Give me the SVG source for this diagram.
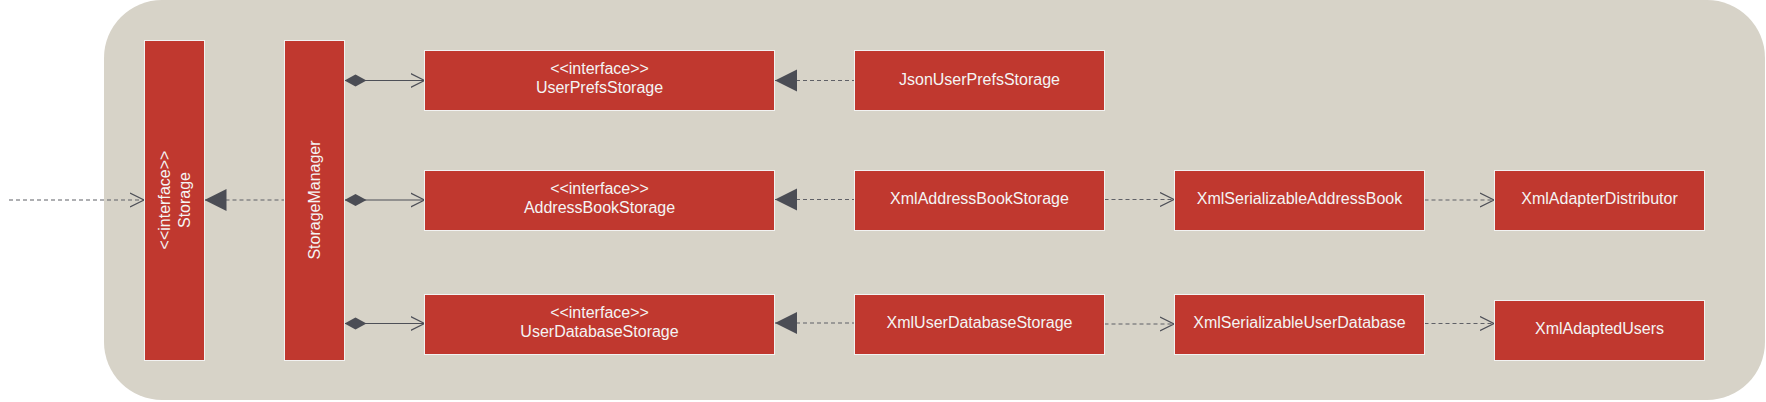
<svg xmlns="http://www.w3.org/2000/svg" width="1766" height="402" viewBox="0 0 1766 402">
<style>
.box{fill:#c0382f;stroke:#f2f2f2;stroke-width:1}
.t{font-family:"Liberation Sans",Arial,sans-serif;font-size:16px;fill:#f4f4f4;text-anchor:middle}
.solid{stroke:#4d4f57;stroke-width:1.2;fill:none}
.dash{stroke:#5f6066;stroke-width:1.2;fill:none;stroke-dasharray:4 3}
</style>
<defs>
<marker id="open" markerUnits="userSpaceOnUse" markerWidth="16" markerHeight="16" refX="14" refY="8" orient="auto" viewBox="0 0 16 16">
<path d="M0,1 L14,8 L0,15" fill="none" stroke="#4d4f57" stroke-width="1.2"/>
</marker>
<marker id="tri" markerUnits="userSpaceOnUse" markerWidth="24" markerHeight="24" refX="0" refY="12" orient="auto" viewBox="0 0 24 24">
<path d="M0,12 L22,1 L22,23 Z" fill="#4b4d55"/>
</marker>
<marker id="dia" markerUnits="userSpaceOnUse" markerWidth="24" markerHeight="14" refX="0" refY="7" orient="auto" viewBox="0 0 24 14">
<path d="M0,7 L11,1 L22,7 L11,13 Z" fill="#4b4d55"/>
</marker>
</defs>
<rect x="104" y="0" width="1661" height="400" rx="58" ry="58" fill="#d7d3c8"/>
<g id="connectors">
<path class="dash" d="M9,200 L144,200" marker-end="url(#open)"/>
<path class="dash" d="M204.5,200 L284,200" marker-start="url(#tri)"/>
<path class="solid" d="M344.5,80.5 L424.5,80.5" marker-start="url(#dia)" marker-end="url(#open)"/>
<path class="solid" d="M344.5,200 L424.5,200" marker-start="url(#dia)" marker-end="url(#open)"/>
<path class="solid" d="M344.5,323.5 L424.5,323.5" marker-start="url(#dia)" marker-end="url(#open)"/>
<path class="dash" d="M775,80.5 L854.5,80.5" marker-start="url(#tri)"/>
<path class="dash" d="M775,199.5 L854.5,199.5" marker-start="url(#tri)"/>
<path class="dash" d="M775,323 L854.5,323" marker-start="url(#tri)"/>
<path class="dash" d="M1104.5,199.5 L1174,199.5" marker-end="url(#open)"/>
<path class="dash" d="M1104.5,324 L1174,324" marker-end="url(#open)"/>
<path class="dash" d="M1424.5,200 L1494,200" marker-end="url(#open)"/>
<path class="dash" d="M1424.5,323.5 L1494,323.5" marker-end="url(#open)"/>
</g>
<g id="Storage">
<rect class="box" x="144.5" y="40.5" width="60" height="320"/>
<g transform="rotate(-90 174.5 200)">
<text class="t" x="174.5" y="195.5">&lt;&lt;interface&gt;&gt;</text>
<text class="t" x="174.5" y="215">Storage</text>
</g>
</g>
<g id="StorageManager">
<rect class="box" x="284.5" y="40.5" width="60" height="320"/>
<text class="t" x="314.5" y="205.5" transform="rotate(-90 314.5 200)">StorageManager</text>
</g>
<g id="UserPrefsStorage">
<rect class="box" x="424.5" y="50.5" width="350" height="60"/>
<text class="t" x="599.5" y="74.3">&lt;&lt;interface&gt;&gt;</text>
<text class="t" x="599.5" y="93.3">UserPrefsStorage</text>
</g>
<g id="AddressBookStorage">
<rect class="box" x="424.5" y="170.5" width="350" height="60"/>
<text class="t" x="599.5" y="194">&lt;&lt;interface&gt;&gt;</text>
<text class="t" x="599.5" y="213">AddressBookStorage</text>
</g>
<g id="UserDatabaseStorage">
<rect class="box" x="424.5" y="294.5" width="350" height="60"/>
<text class="t" x="599.5" y="318">&lt;&lt;interface&gt;&gt;</text>
<text class="t" x="599.5" y="337">UserDatabaseStorage</text>
</g>
<g id="JsonUserPrefsStorage">
<rect class="box" x="854.5" y="50.5" width="250" height="60"/>
<text class="t" x="979.5" y="84.5">JsonUserPrefsStorage</text>
</g>
<g id="XmlAddressBookStorage">
<rect class="box" x="854.5" y="170.5" width="250" height="60"/>
<text class="t" x="979.5" y="204">XmlAddressBookStorage</text>
</g>
<g id="XmlUserDatabaseStorage">
<rect class="box" x="854.5" y="294.5" width="250" height="60"/>
<text class="t" x="979.5" y="328">XmlUserDatabaseStorage</text>
</g>
<g id="XmlSerializableAddressBook">
<rect class="box" x="1174.5" y="170.5" width="250" height="60"/>
<text class="t" x="1299.5" y="204">XmlSerializableAddressBook</text>
</g>
<g id="XmlSerializableUserDatabase">
<rect class="box" x="1174.5" y="294.5" width="250" height="60"/>
<text class="t" x="1299.5" y="328">XmlSerializableUserDatabase</text>
</g>
<g id="XmlAdapterDistributor">
<rect class="box" x="1494.5" y="170.5" width="210" height="60"/>
<text class="t" x="1599.5" y="204">XmlAdapterDistributor</text>
</g>
<g id="XmlAdaptedUsers">
<rect class="box" x="1494.5" y="300.5" width="210" height="60"/>
<text class="t" x="1599.5" y="334">XmlAdaptedUsers</text>
</g>
</svg>
